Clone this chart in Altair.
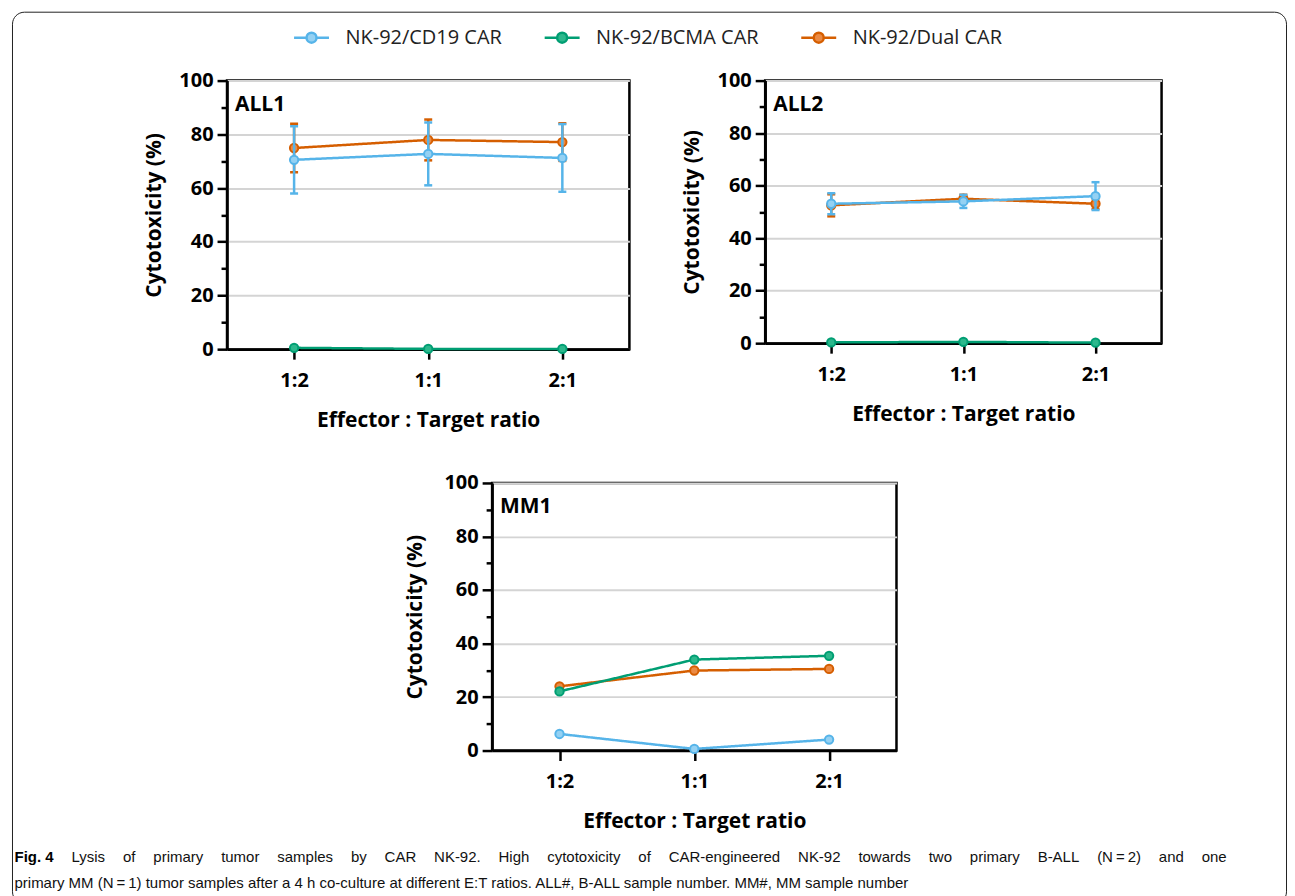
import altair as alt
import pandas as pd

# ---------------- data ----------------
ratios = ["1:2", "1:1", "2:1"]
series = ["NK-92/CD19 CAR", "NK-92/BCMA CAR", "NK-92/Dual CAR"]
stroke_colors = ["#56B4E9", "#009E73", "#D55E00"]
fill_colors = ["#94D1F3", "#2CB88C", "#EB8A44"]
draw_order = ["NK-92/Dual CAR", "NK-92/BCMA CAR", "NK-92/CD19 CAR"]

panel_labels = ["ALL1", "ALL2", "MM1"]

all1_cd19 = [70.5, 72.7, 71.2]
all1_cd19_sd = [12.5, 11.7, 12.6]
all1_bcma = [0.5, 0.1, 0.1]
all1_bcma_sd = [0.0, 0.0, 0.0]
all1_dual = [74.9, 77.9, 77.1]
all1_dual_sd = [9.0, 7.6, 7.0]

all2_cd19 = [53.1, 54.0, 56.0]
all2_cd19_sd = [4.0, 2.5, 5.3]
all2_bcma = [0.3, 0.5, 0.2]
all2_bcma_sd = [0.0, 0.0, 0.0]
all2_dual = [52.5, 55.0, 53.1]
all2_dual_sd = [4.2, 1.5, 2.0]

mm1_cd19 = [6.2, 0.6, 4.1]
mm1_cd19_sd = [0.0, 0.0, 0.0]
mm1_bcma = [22.1, 34.0, 35.4]
mm1_bcma_sd = [0.0, 0.0, 0.0]
mm1_dual = [24.0, 29.9, 30.5]
mm1_dual_sd = [0.0, 0.0, 0.0]

y_ticks = [0, 10, 20, 30, 40, 50, 60, 70, 80, 90, 100]
x_title = "Effector : Target ratio"
y_title = "Cytotoxicity (%)"

caption_bold = "Fig. 4"
caption_line1_words = ["Lysis", "of", "primary", "tumor", "samples", "by", "CAR", "NK-92.", "High",
                       "cytotoxicity", "of", "CAR-engineered", "NK-92", "towards", "two", "primary",
                       "B-ALL", "(N\u2009=\u20092)", "and", "one"]
caption_line2 = ("primary MM (N\u2009=\u20091) tumor samples after a 4 h co-culture at different E:T ratios. "
                 "ALL#, B-ALL sample number. MM#, MM sample number")

NB = "\u00a0"
GAP = NB * 4 + "\u200a"
# justified first line (wide word gaps), indented after the bold "Fig. 4"
caption_lines = [
    "\u200b" + NB * 13 + "\u2009" + GAP.join(caption_line1_words),
    caption_line2,
]

FONT = "Open Sans"
CAP_FONT = "Liberation Sans"


def frame(vals, sds):
    rows = []
    for s, v_list, sd_list in zip(series, vals, sds):
        for r, v, e in zip(ratios, v_list, sd_list):
            rows.append({"ratio": r, "series": s, "value": v,
                         "lo": v - e, "hi": v + e, "sd": e})
    return pd.DataFrame(rows)


df1 = frame([all1_cd19, all1_bcma, all1_dual], [all1_cd19_sd, all1_bcma_sd, all1_dual_sd])
df2 = frame([all2_cd19, all2_bcma, all2_dual], [all2_cd19_sd, all2_bcma_sd, all2_dual_sd])
df3 = frame([mm1_cd19, mm1_bcma, mm1_dual], [mm1_cd19_sd, mm1_bcma_sd, mm1_dual_sd])

legend = alt.Legend(
    title=None, orient="none", legendX=75, legendY=-53, direction="horizontal",
    symbolType="M-3.5,0L-1,0M1,0L3.5,0M-1,0A1,1,0,1,1,1,0A1,1,0,1,1,-1,0Z",
    symbolSize=100, symbolStrokeWidth=2.5, symbolOpacity=1,
    labelFont=FONT, labelFontSize=20, labelColor="#222222", labelOffset=24,
    labelLimit=400, columnPadding=37, padding=0,
)

# invisible-entry legend whose rounded box draws the figure frame
frame_legend = alt.Legend(
    title=None, orient="none", legendX=-215, legendY=-69, direction="vertical",
    columns=1, symbolSize=100, symbolOpacity=0, labelExpr="''", labelFontSize=10,
    labelOffset=1264, rowPadding=430, padding=0,
    strokeColor="#222222", cornerRadius=12,
)

x_axis = alt.Axis(
    title=x_title, labelAngle=0, tickSize=10, labelPadding=11, titlePadding=19,
    minExtent=41, maxExtent=41, grid=False,
)


def make_y_axis(title_pad):
    return alt.Axis(
        title=y_title, values=y_ticks,
        labelExpr="datum.value % 20 === 0 ? datum.label : ''",
        tickSize={"condition": {"test": "datum.value % 20 === 0", "value": 10}, "value": 6},
        labelPadding=4, titlePadding=title_pad, minExtent=48, maxExtent=48,
        grid=True, gridColor="#d4d4d4", gridWidth=2,
        gridOpacity={"condition": {"test": "datum.value % 20 === 0", "value": 1}, "value": 0},
    )


x_enc = alt.X("ratio:N", sort=ratios,
              scale=alt.Scale(type="point", domain=ratios, padding=0.5), axis=x_axis)


def panel(df, name, w, h, title_pad=15):
    y_axis = make_y_axis(title_pad)

    def y_enc(field):
        return alt.Y(f"{field}:Q", scale=alt.Scale(domain=[0, 100], nice=False), axis=y_axis)

    layers = []
    for s in draw_order:
        col = stroke_colors[series.index(s)]
        b = alt.Chart(df).transform_filter(alt.datum.series == s)
        err = b.transform_filter(alt.datum.sd > 0)
        layers.append(err.mark_rule(strokeWidth=2.5, color=col).encode(
            x=x_enc, y=y_enc("lo"), y2="hi:Q"))
        layers.append(err.mark_tick(size=8, thickness=2.5, color=col, opacity=1).encode(
            x=x_enc, y=y_enc("lo")))
        layers.append(err.mark_tick(size=8, thickness=2.5, color=col, opacity=1).encode(
            x=x_enc, y=y_enc("hi")))
        layers.append(b.mark_line(strokeWidth=2.5, color=col).encode(
            x=x_enc, y=y_enc("value"),
            strokeDash=alt.StrokeDash(
                "series:N",
                scale=alt.Scale(domain=series[::-1], range=[[1, 0], [1, 0], [1, 0]]),
                legend=frame_legend),
        ))
        layers.append(b.mark_point(filled=True, size=70, strokeWidth=2, opacity=1).encode(
            x=x_enc, y=y_enc("value"),
            fill=alt.Fill("series:N", scale=alt.Scale(domain=series, range=fill_colors), legend=legend),
            stroke=alt.Stroke("series:N", scale=alt.Scale(domain=series, range=stroke_colors), legend=legend),
        ))
    lab = alt.Chart(pd.DataFrame({"label": [name]})).mark_text(
        align="left", baseline="alphabetic", font=FONT, fontWeight="bold",
        fontSize=21, color="black").encode(
        text="label:N", x=alt.value(8), y=alt.value(30))
    return alt.layer(*layers, lab).properties(width=w, height=h)


p1 = panel(df1, panel_labels[0], 403, 269)
p2 = panel(df2, panel_labels[1], 397, 263)
p3 = panel(df3, panel_labels[2], 405, 268, title_pad=19)

chart = alt.vconcat(
    alt.hconcat(p1, p2, spacing=48),
    p3,
    center=True, spacing=39,
).properties(
    title=alt.Title(
        text=caption_bold, subtitle=caption_lines, orient="bottom", anchor="start",
        dx=3, dy=-69, offset=15, font=CAP_FONT, fontSize=15, fontWeight="bold", color="black",
        subtitleFont=CAP_FONT, subtitleFontSize=15, subtitleColor="#111111",
        subtitleLineHeight=26, subtitlePadding=-15,
    ),
    padding={"left": 3, "top": 2, "right": 0, "bottom": 0},
).configure_view(
    stroke="black", strokeWidth=2.5
).configure_axis(
    domainColor="black", domainWidth=2.5, tickColor="black", tickWidth=2.5,
    labelColor="black", titleColor="black", labelFont=FONT, titleFont=FONT,
    labelFontWeight="bold", titleFontWeight="bold", labelFontSize=20, titleFontSize=21,
)

chart.save("out.html", embed_options={"renderer": "svg", "actions": False})
